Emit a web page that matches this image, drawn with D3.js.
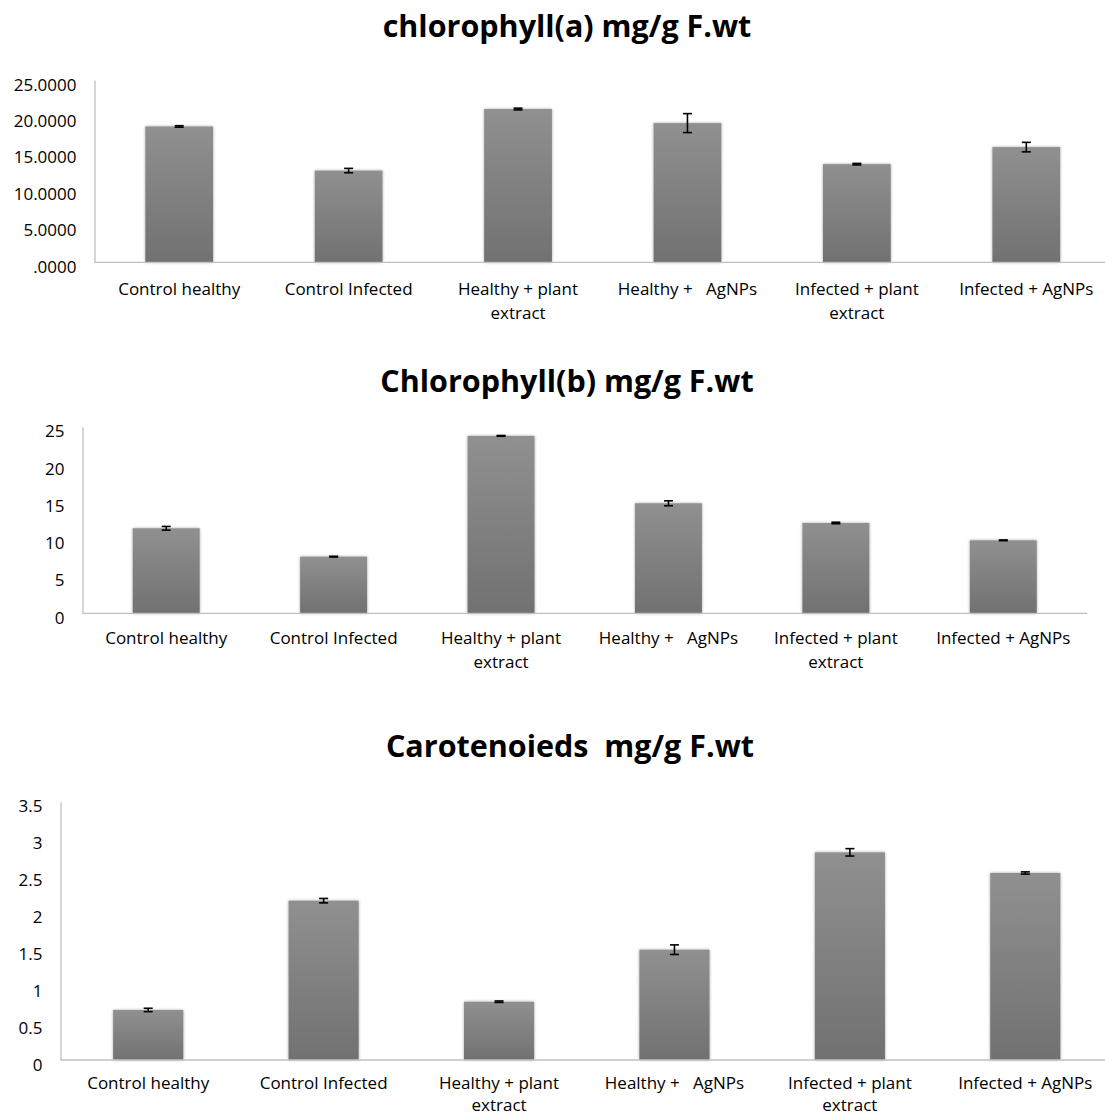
<!DOCTYPE html>
<html>
<head>
<meta charset="utf-8">
<script src="https://cdn.jsdelivr.net/npm/d3@7"></script>
<style>
  html, body { margin: 0; padding: 0; background: #fff; }
  svg { display: block; }
  text { font-family: "Open Sans", "Noto Sans", sans-serif; fill: #000; }
</style>
</head>
<body>
<script>
// Treatments shared by the three panels
const categories = [
  "Control healthy",
  "Control Infected",
  "Healthy + plant extract",
  "Healthy +   AgNPs",
  "Infected + plant extract",
  "Infected + AgNPs"
];

// Chlorophyll (a), mg/g fresh weight, with error values
const chlorophyllA = [18.63, 12.58, 21.02, 19.09, 13.46, 15.80];
const chlorophyllAErr = [0.10, 0.30, 0.12, 1.30, 0.10, 0.65];
const chlorophyllATicks = [0, 5, 10, 15, 20, 25];

// Chlorophyll (b), mg/g fresh weight
const chlorophyllB = [11.39, 7.59, 23.77, 14.74, 12.10, 9.78];
const chlorophyllBErr = [0.25, 0.05, 0.05, 0.33, 0.10, 0.05];
const chlorophyllBTicks = [0, 5, 10, 15, 20, 25];

// Carotenoids, mg/g fresh weight
const carotenoids = [0.678, 2.159, 0.790, 1.495, 2.814, 2.534];
const carotenoidsErr = [0.023, 0.030, 0.010, 0.065, 0.050, 0.015];
const carotenoidsTicks = [0, 0.5, 1, 1.5, 2, 2.5, 3, 3.5];

const W = 1105, H = 1117;
const svg = d3.select("body").append("svg")
  .attr("width", W).attr("height", H);

const defs = svg.append("defs");
const grad = defs.append("linearGradient")
  .attr("id", "barFill").attr("x1", 0).attr("y1", 0).attr("x2", 0).attr("y2", 1);
grad.append("stop").attr("offset", "0%").attr("stop-color", "#909090");
grad.append("stop").attr("offset", "100%").attr("stop-color", "#717171");

const shadow = defs.append("filter").attr("id", "barShadow")
  .attr("x", "-20%").attr("y", "-5%").attr("width", "140%").attr("height", "110%");
shadow.append("feGaussianBlur").attr("in", "SourceAlpha").attr("stdDeviation", 1.6).attr("result", "blur");
shadow.append("feComponentTransfer").attr("in", "blur").attr("result", "soft")
  .append("feFuncA").attr("type", "linear").attr("slope", 0.35);
const merge = shadow.append("feMerge");
merge.append("feMergeNode").attr("in", "soft");
merge.append("feMergeNode").attr("in", "SourceGraphic");

// Break a label onto several lines when wider than maxW
function wrapLines(textSel, label, maxW) {
  const words = label.split(" ");
  const lines = [];
  let cur = "";
  const probe = textSel.append("tspan");
  for (let i = 0; i < words.length; i++) {
    const w = words[i];
    const trial = cur === "" ? w : cur + " " + w;
    probe.text(trial);
    if (probe.node().getComputedTextLength() > maxW && cur !== "") {
      lines.push(cur);
      cur = w;
    } else {
      cur = trial;
    }
  }
  lines.push(cur);
  probe.remove();
  return lines;
}

function drawPanel(cfg) {
  const g = svg.append("g");
  const x = d3.scaleBand().domain(categories).range(cfg.xRange)
    .paddingInner(0.6).paddingOuter(0.3);
  const y = d3.scaleLinear().domain(cfg.yDomain).range(cfg.yRange);

  // title
  g.append("text")
    .attr("x", cfg.titleX).attr("y", cfg.titleY)
    .attr("text-anchor", "middle")
    .style("font-size", "30.5px").style("font-weight", "bold")
    .style("white-space", "pre")
    .text(cfg.title);

  // y axis: labels only, plus a light rule
  const yAxis = d3.axisLeft(y).tickValues(cfg.ticks).tickSize(0).tickPadding(18)
    .tickFormat(cfg.fmt);
  const ya = g.append("g").attr("transform", `translate(${cfg.xRange[0]},0)`).call(yAxis);
  ya.select(".domain").attr("stroke", "#c0c0c0").attr("stroke-width", 1.3);
  ya.selectAll(".tick text")
    .attr("dy", null).attr("y", 10)
    .style("font-size", "17px").style("font-family", "'Open Sans', sans-serif").attr("fill", "#000");

  // bars
  const vals = cfg.values;
  g.append("g").selectAll("rect").data(vals).join("rect")
    .attr("x", (d, i) => x(categories[i]))
    .attr("y", d => y(d))
    .attr("width", x.bandwidth())
    .attr("height", d => y(0) - y(d))
    .attr("fill", "url(#barFill)")
    .attr("filter", "url(#barShadow)");

  // x axis rule
  g.append("line")
    .attr("x1", cfg.xRange[0]).attr("x2", cfg.xRange[1])
    .attr("y1", y(0)).attr("y2", y(0))
    .attr("stroke", "#c0c0c0").attr("stroke-width", 1.3);

  // error bars
  const eb = g.append("g").attr("stroke", "#000").attr("stroke-width", 1.6);
  vals.forEach((v, i) => {
    const cx = x(categories[i]) + x.bandwidth() / 2;
    const e = cfg.errors[i];
    const y1 = y(v + e), y2 = y(v - e);
    eb.append("line").attr("x1", cx).attr("x2", cx).attr("y1", y1).attr("y2", y2);
    eb.append("line").attr("x1", cx - 4.5).attr("x2", cx + 4.5).attr("y1", y1).attr("y2", y1);
    eb.append("line").attr("x1", cx - 4.5).attr("x2", cx + 4.5).attr("y1", y2).attr("y2", y2);
  });

  // category labels
  const labels = g.append("g");
  categories.forEach(c => {
    const cx = x(c) + x.bandwidth() / 2;
    const t = labels.append("text")
      .attr("text-anchor", "middle")
      .style("font-size", "17px")
      .style("white-space", "pre");
    const lines = wrapLines(t, c, 150);
    lines.forEach((ln, k) => {
      t.append("tspan").attr("x", cx).attr("y", cfg.labelY + k * cfg.lineGap).text(ln);
    });
  });
}

drawPanel({
  title: "chlorophyll(a) mg/g F.wt",
  titleX: 567, titleY: 37,
  values: chlorophyllA, errors: chlorophyllAErr,
  ticks: chlorophyllATicks,
  fmt: d => d3.format(".4f")(d).replace(/^0\./, "."),
  yDomain: [0, 25], yRange: [262.3, 80],
  xRange: [94.5, 1111],
  labelY: 295, lineGap: 24
});

drawPanel({
  title: "Chlorophyll(b) mg/g F.wt",
  titleX: 567, titleY: 392,
  values: chlorophyllB, errors: chlorophyllBErr,
  ticks: chlorophyllBTicks,
  fmt: d3.format("d"),
  yDomain: [0, 25], yRange: [613.3, 426.7],
  xRange: [82.5, 1087],
  labelY: 644, lineGap: 24
});

drawPanel({
  title: "Carotenoieds  mg/g F.wt",
  titleX: 570, titleY: 757,
  values: carotenoids, errors: carotenoidsErr,
  ticks: carotenoidsTicks,
  fmt: d => String(d),
  yDomain: [0, 3.5], yRange: [1060, 801.7],
  xRange: [60.5, 1113],
  labelY: 1089, lineGap: 22
});
</script>
</body>
</html>
